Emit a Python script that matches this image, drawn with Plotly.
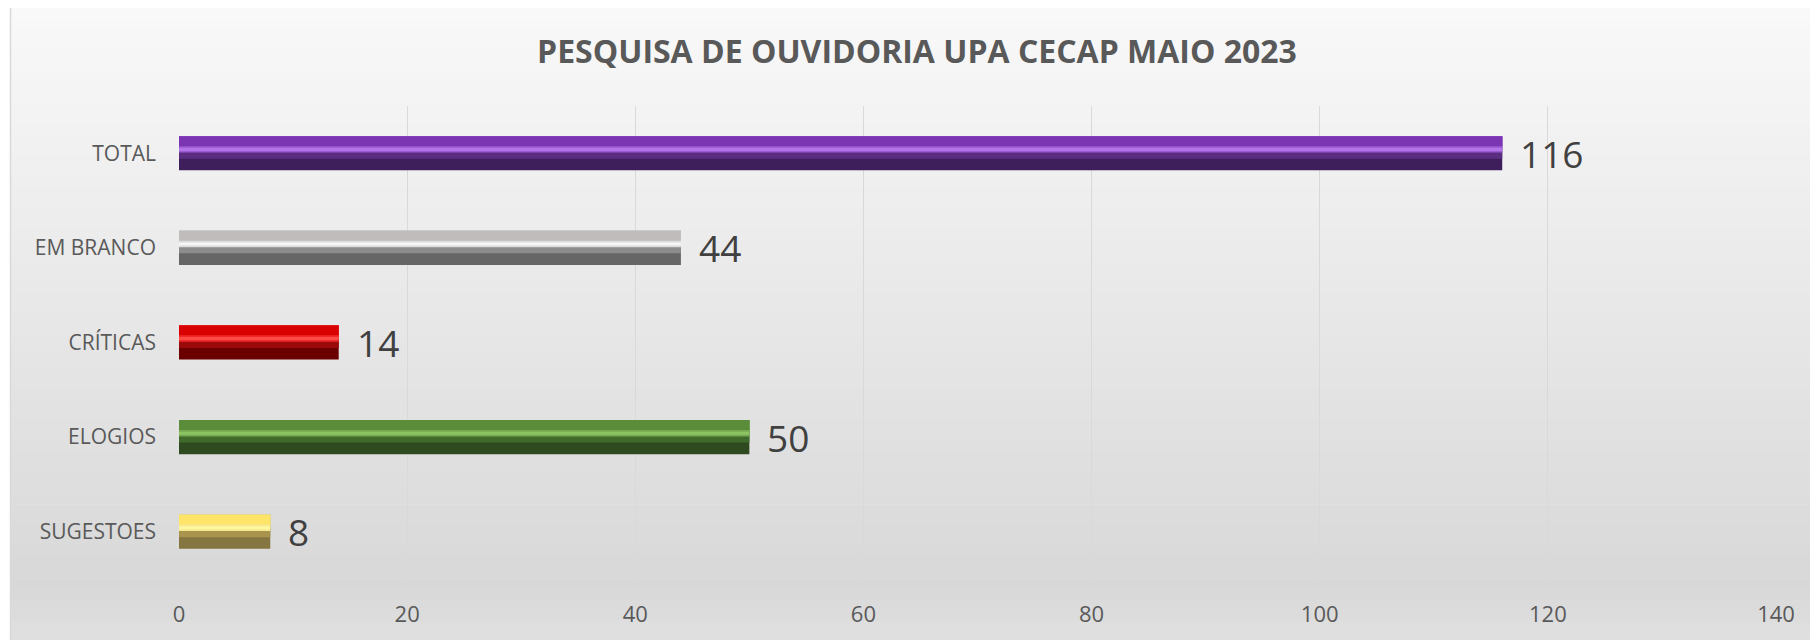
import plotly.graph_objects as go

# ---- data ----
categories = ["SUGESTOES", "ELOGIOS", "CRÍTICAS", "EM BRANCO", "TOTAL"]
values = [8, 50, 14, 44, 116]
title_text = "PESQUISA DE OUVIDORIA UPA CECAP MAIO 2023"
x_ticks = [0, 20, 40, 60, 80, 100, 120, 140]

# bevel colour layers per category (bottom -> top)
col_dark = ["#857540", "#2f4a20", "#6a0000", "#666666", "#3e1f5c"]
col_mid = ["#a8944c", "#3f6a2c", "#9a0a0a", "#8c8c8c", "#5a2d82"]
col_soft = ["#f6e890", "#76aa50", "#f02a2a", "#dcdada", "#9a5ad0"]
col_high = ["#fff6a0", "#8cc464", "#ff4a4a", "#f6f6f6", "#b274e6"]
col_top = ["#ffe46a", "#5b8c3a", "#d80000", "#c0bcbc", "#7b35b2"]

OFF = 8  # page body margin
W, H = 1818 - OFF, 640 - OFF
L, R, T, B = 179 - OFF, 42, 106 - OFF, 58
pw, ph = W - L - R, H - T - B

bar_w = 0.36
fig = go.Figure()
layers = [
    (col_dark, 0.0, 1.0),
    (col_mid, 0.34, 1.0),
    (col_soft, 0.52, 1.0),
    (col_high, 0.57, 1.0),
    (col_soft, 0.66, 1.0),
    (col_top, 0.71, 1.0),
]
for cols, f0, f1 in layers:
    fig.add_trace(go.Bar(
        y=categories, x=values, orientation="h",
        marker=dict(color=cols, line=dict(width=0)),
        width=bar_w * (f1 - f0),
        offset=-bar_w / 2 + bar_w * f0,
        hoverinfo="skip", showlegend=False,
    ))

# data labels
for c, v in zip(categories, values):
    fig.add_annotation(x=v, y=c, text=str(v), showarrow=False,
                       xanchor="left", yanchor="middle", xshift=16, yshift=0,
                       font=dict(family="Open Sans", size=37, color="#404040"))

# gradient background bands (paper coordinates); inputs in page pixels
def to_py(py):
    return (H - B - (py - OFF)) / ph

def to_px(px):
    return (px - OFF - L) / pw

shapes = []
top_y, mid_y, bot_y = 7, 590, 645
n = 60
for i in range(n):
    y0 = top_y + (bot_y - top_y) * i / n
    y1 = top_y + (bot_y - top_y) * (i + 1) / n
    ym = (y0 + y1) / 2
    if ym <= mid_y:
        g = 249 - (249 - 216) * (ym - top_y) / (mid_y - top_y)
    else:
        g = 216 + (224 - 216) * (ym - mid_y) / (bot_y - mid_y)
    g = int(round(g))
    shapes.append(dict(type="rect", xref="paper", yref="paper",
                       x0=to_px(10), x1=to_px(1830), y0=to_py(y1 + 0.6), y1=to_py(y0),
                       fillcolor=f"rgb({g},{g},{g})", line=dict(width=0), layer="below"))
# border
shapes.append(dict(type="rect", xref="paper", yref="paper",
                   x0=to_px(10.5), x1=to_px(1830), y0=to_py(650), y1=to_py(6.5),
                   fillcolor="rgba(0,0,0,0)", line=dict(width=1.5, color="#d9d9d9"), layer="below"))

fig.update_layout(
    width=W, height=H,
    margin=dict(l=L, r=R, t=T, b=B),
    paper_bgcolor="white",
    plot_bgcolor="rgba(0,0,0,0)",
    barmode="overlay",
    shapes=shapes,
    title=dict(text=f"<b>{title_text}</b>", x=(917 - OFF) / W, xref="container",
               xanchor="center",
               y=1 - (52 - OFF) / H, yanchor="middle",
               font=dict(family="Open Sans", size=32, color="#595959")),
    xaxis=dict(range=[0, 140], tickvals=x_ticks, showgrid=True,
               gridcolor="#d9d9d9", gridwidth=1, zeroline=False,
               showline=False, ticks="", ticklen=0, ticklabelstandoff=20,
               tickfont=dict(family="Open Sans", size=22, color="#595959")),
    yaxis=dict(categoryorder="array", categoryarray=categories,
               showgrid=False, zeroline=False, showline=False, ticks="",
               ticklabelstandoff=22,
               tickfont=dict(family="Open Sans", size=21, color="#595959")),
    font=dict(family="Open Sans"),
)

fig.write_html("out.html")
